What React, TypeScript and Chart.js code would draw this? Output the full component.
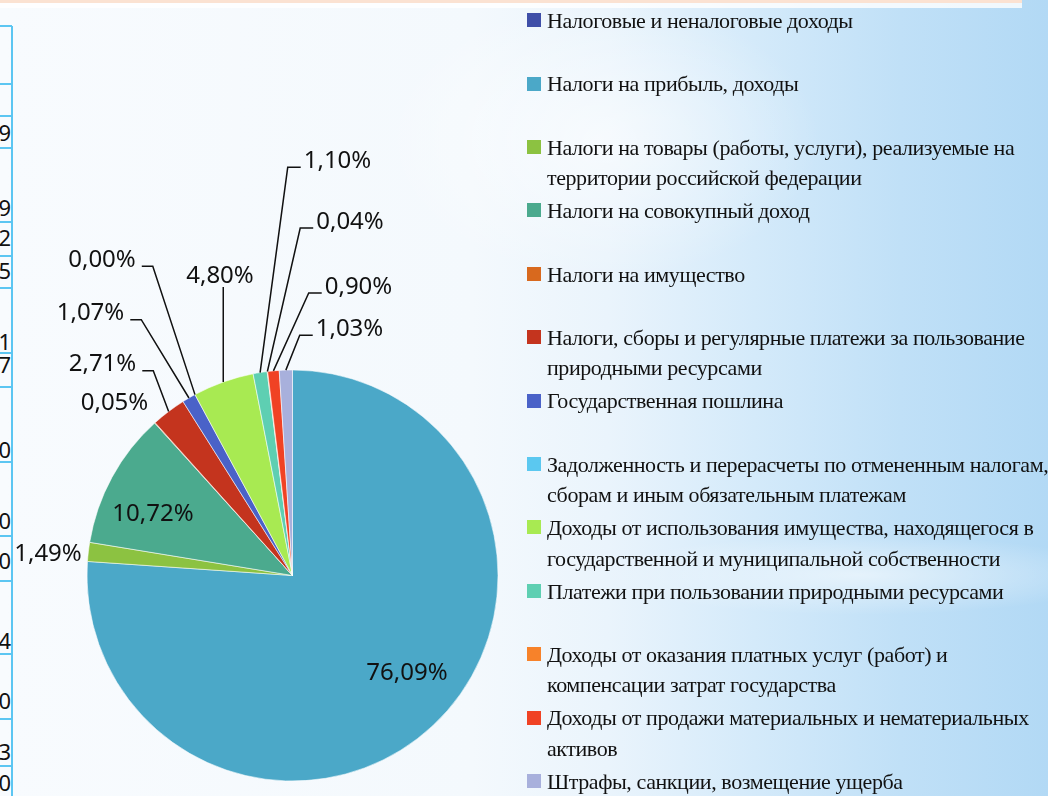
import React, { useEffect, useRef } from "react";
import { Chart, registerables } from "chart.js";

Chart.register(...registerables);

// ---- data ----
const categories: string[] = [
  "Налоговые и неналоговые доходы",
  "Налоги на прибыль, доходы",
  "Налоги на товары (работы, услуги), реализуемые на\nтерритории российской федерации",
  "Налоги на совокупный доход",
  "Налоги на имущество",
  "Налоги, сборы и регулярные платежи за пользование\nприродными ресурсами",
  "Государственная пошлина",
  "Задолженность и перерасчеты по отмененным налогам,\nсборам и иным обязательным платежам",
  "Доходы от использования имущества, находящегося в\nгосударственной и муниципальной собственности",
  "Платежи при пользовании природными ресурсами",
  "Доходы от оказания платных услуг (работ) и\nкомпенсации затрат государства",
  "Доходы от продажи материальных и нематериальных\nактивов",
  "Штрафы, санкции, возмещение ущерба",
];

const shares: number[] = [0, 76.09, 1.49, 10.72, 0.05, 2.71, 1.07, 0.0, 4.8, 1.1, 0.04, 0.9, 1.03];

const showShareLabel: boolean[] = [false, true, true, true, true, true, true, true, true, true, true, true, true];

// left-edge fragment of a neighbouring table (background of the slide)
const tableDigits: string[] = ["9", "9", "2", "5", "1", "7", "0", "0", "0", "4", "0", "3", "0"];

// ---- styles / layout ----
const colors: string[] = [
  "#3F4FA8",
  "#4BA8C8",
  "#8CC241",
  "#4BAA8E",
  "#D8691E",
  "#C4341E",
  "#4A62C8",
  "#5BC8F0",
  "#A8EA52",
  "#5ECFB2",
  "#F7822A",
  "#F04224",
  "#A8B0DC",
];

type Placement = { kind: string; dx: number; dy: number } | null;
// label text centres, offsets (px) from the pie centre
const labelPlacement: Placement[] = [
  null,
  { kind: "inside", dx: 114.5, dy: 96 },
  { kind: "free", dx: -244.5, dy: -23.5 },
  { kind: "inside", dx: -139.5, dy: -63.5 },
  { kind: "free", dx: -178, dy: -174 },
  { kind: "left", dx: -190, dy: -212.8 },
  { kind: "left", dx: -202, dy: -263.8 },
  { kind: "left", dx: -190.5, dy: -317.2 },
  { kind: "above", dx: -72.5, dy: -301.5 },
  { kind: "right", dx: 45, dy: -416.2 },
  { kind: "right", dx: 57.5, dy: -355.5 },
  { kind: "right", dx: 66, dy: -290.5 },
  { kind: "right", dx: 57, dy: -248.2 },
];

const tableDigitY: number[] = [133, 208, 238, 271, 342, 365, 450, 521, 561, 641, 701, 752, 783];
const tableLineY: number[] = [26, 84, 116, 148, 222, 256, 288, 353, 387, 462, 536, 581, 654, 719, 766];

const fmt = (v: number) => v.toFixed(2).replace(".", ",") + "%";

const labelPlugin = {
  id: "shareLabels",
  afterDatasetsDraw(chart: any) {
    const ctx = chart.ctx as CanvasRenderingContext2D;
    const meta = chart.getDatasetMeta(0);
    ctx.save();
    ctx.font = '24px "Noto Sans"';
    ctx.fillStyle = "#111111";
    ctx.strokeStyle = "#111111";
    ctx.lineWidth = 1.5;
    ctx.textAlign = "center";
    ctx.textBaseline = "alphabetic";
    meta.data.forEach((el: any, i: number) => {
      const pl = labelPlacement[i];
      if (!showShareLabel[i] || !pl) return;
      const p = el.getProps(["x", "y", "startAngle", "endAngle", "outerRadius"], true);
      const mid = (p.startAngle + p.endAngle) / 2;
      const ex = p.x + Math.cos(mid) * p.outerRadius;
      const ey = p.y + Math.sin(mid) * p.outerRadius;
      const cx = p.x + pl.dx;
      const cy = p.y + pl.dy;
      const text = fmt(shares[i]);
      const w = ctx.measureText(text).width;
      const base = cy + 8.5;
      ctx.fillText(text, cx, base);
      const ly = base - 0.5;
      ctx.beginPath();
      if (pl.kind === "left") {
        const x1 = cx + w / 2 + 6;
        ctx.moveTo(x1, ly);
        ctx.lineTo(x1 + 11, ly);
        ctx.lineTo(ex, ey);
        ctx.stroke();
      } else if (pl.kind === "right") {
        const x1 = cx - w / 2 - 3;
        ctx.moveTo(x1, ly);
        ctx.lineTo(x1 - 13, ly);
        ctx.lineTo(ex, ey);
        ctx.stroke();
      } else if (pl.kind === "above") {
        ctx.moveTo(ex, cy + 13);
        ctx.lineTo(ex, ey);
        ctx.stroke();
      }
    });
    ctx.restore();
  },
};

function PieChart() {
  const ref = useRef<HTMLCanvasElement | null>(null);
  useEffect(() => {
    if (!ref.current) return;
    const chart = new Chart(ref.current, {
      type: "pie",
      data: {
        labels: categories,
        datasets: [
          {
            data: shares,
            backgroundColor: colors,
            borderColor: "rgba(255,255,255,0.55)",
            borderWidth: 1,
          },
        ],
      },
      options: {
        responsive: false,
        animation: false,
        layout: { padding: { left: 86.5, top: 369.5, right: 549.5, bottom: 14.5 } },
        plugins: { legend: { display: false }, tooltip: { enabled: false } },
      },
      plugins: [labelPlugin],
    });
    return () => chart.destroy();
  }, []);
  return (
    <canvas
      ref={ref}
      width={1048}
      height={796}
      style={{ position: "absolute", left: 0, top: 0, width: 1048, height: 796 }}
    />
  );
}

export default function App() {
  const legendTop0 = 21.2;
  const legendStep = 63.4;
  const lineH = 30.5;
  return (
    <div
      style={{
        position: "fixed",
        left: 0,
        top: 0,
        width: 1048,
        height: 796,
        overflow: "hidden",
        background:
          "radial-gradient(ellipse 260px 40px at 860px 575px, rgba(255,255,255,0.55), rgba(255,255,255,0)), " +
          "radial-gradient(ellipse 220px 140px at 600px 140px, rgba(255,255,255,0.6), rgba(255,255,255,0)), " +
          "linear-gradient(90deg, #f8fbfe 0%, #f4f9fd 45%, #eaf4fc 58%, #d4eafa 72%, #c0e0f7 86%, #b2d9f5 100%)",
      }}
    >
      {/* top strip */}
      <div style={{ position: "absolute", left: 0, top: 0, width: 1022, height: 3, background: "#fbe2d2" }} />
      <div style={{ position: "absolute", left: 0, top: 3, width: 1022, height: 5, background: "rgba(255,255,255,0.8)" }} />

      {/* table fragment at the left edge */}
      <div style={{ position: "absolute", left: 11, top: 26, width: 2, height: 770, background: "#5cc6f2" }} />
      {tableLineY.map((y, i) => (
        <div key={"l" + i} style={{ position: "absolute", left: 0, top: y - 1, width: 12, height: 2, background: "#5cc6f2" }} />
      ))}
      {tableDigits.map((d, i) => (
        <div
          key={"d" + i}
          style={{
            position: "absolute",
            right: 1048 - 11,
            top: tableDigitY[i] - 16,
            height: 32,
            lineHeight: "32px",
            font: '22px "Noto Sans"',
            color: "#111",
            textAlign: "right",
          }}
        >
          {d}
        </div>
      ))}

      <PieChart />

      {/* legend */}
      {categories.map((c, i) => {
        const top = legendTop0 + i * legendStep;
        return (
          <div key={"g" + i}>
            <div
              style={{
                position: "absolute",
                left: 527,
                top: top - 8,
                width: 14,
                height: 14,
                background: colors[i],
              }}
            />
            <div
              style={{
                position: "absolute",
                left: 547,
                top: top - lineH / 2,
                whiteSpace: "pre",
                font: '22px "Liberation Serif"',
                lineHeight: lineH + "px",
                letterSpacing: "-0.42px",
                color: "#111111",
              }}
            >
              {c}
            </div>
          </div>
        );
      })}
    </div>
  );
}
